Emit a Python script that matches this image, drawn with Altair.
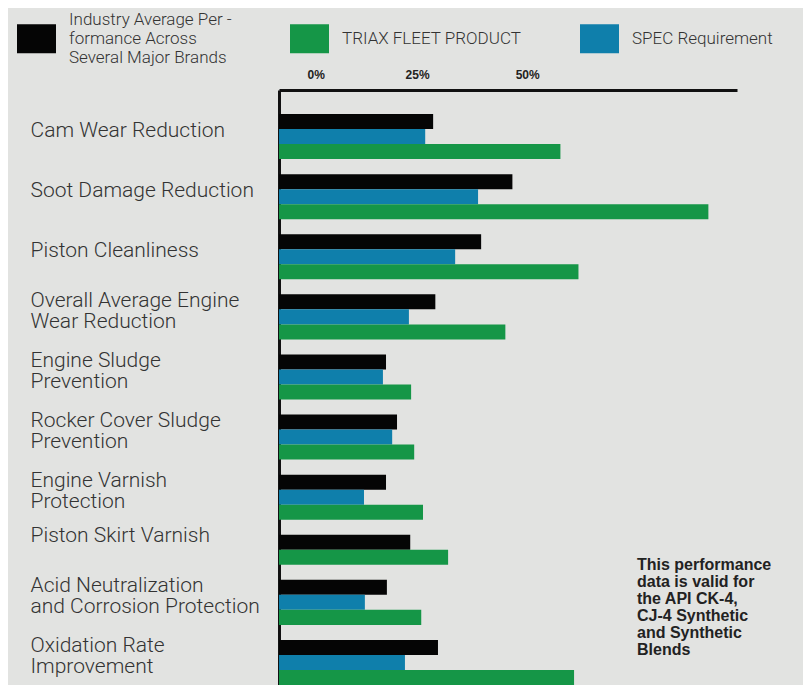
import altair as alt
import pandas as pd

categories = [
    "Cam Wear Reduction",
    "Soot Damage Reduction",
    "Piston Cleanliness",
    "Overall Average Engine|Wear Reduction",
    "Engine Sludge|Prevention",
    "Rocker Cover Sludge|Prevention",
    "Engine Varnish|Protection",
    "Piston Skirt Varnish",
    "Acid Neutralization|and Corrosion Protection",
    "Oxidation Rate|Improvement",
]
series = [
    "Industry Average Per -|formance Across|Several Major Brands",
    "TRIAX FLEET PRODUCT",
    "SPEC Requirement",
]
industry = [35.0, 53.0, 45.9, 35.5, 24.3, 26.8, 24.3, 29.8, 24.5, 36.1]
spec = [33.2, 45.2, 40.0, 29.5, 23.6, 25.7, 19.3, None, 19.5, 28.6]
triax = [63.9, 97.5, 68.0, 51.4, 30.0, 30.7, 32.7, 38.4, 32.3, 67.0]
tick_values = [0, 25, 50]
note_lines = [
    "This performance",
    "data is valid for",
    "the API CK-4,",
    "CJ-4 Synthetic",
    "and Synthetic",
    "Blends",
]
colors = ["#050505", "#159647", "#0f7fab"]

# one band row per bar, one empty row between category groups;
# the category label sits on the middle row of its group
rows = []
row_domain = []
for i, cat in enumerate(categories):
    present = [
        (name, vals[i])
        for name, vals in ((series[0], industry), (series[2], spec), (series[1], triax))
        if vals[i] is not None
    ]
    mid = (len(present) - 1) // 2
    for slot, (name, v) in enumerate(present):
        key = cat if slot == mid else f"{cat}@{slot}"
        row_domain.append(key)
        rows.append({"row": key, "series": name, "value": v})
    if i < len(categories) - 1:
        row_domain.append(f"~{i}")
df = pd.DataFrame(rows)

label_font = "Roboto"

bars = alt.Chart(df).mark_bar().encode(
    x=alt.X(
        "value:Q",
        scale=alt.Scale(domain=[0, 104], nice=False),
        axis=alt.Axis(
            orient="top",
            values=tick_values,
            labelExpr="datum.value + '%'",
            title=None,
            grid=False,
            ticks=False,
            tickSize=0,
            domainColor="#111111",
            domainWidth=3,
            labelFont="Liberation Sans",
            labelFontWeight="bold",
            labelFontSize=12,
            labelColor="#222222",
            labelOffset=28,
            labelPadding=9,
        ),
    ),
    y=alt.Y(
        "row:N",
        scale=alt.Scale(domain=row_domain, paddingInner=0, paddingOuter=1, align=0.8),
        axis=alt.Axis(
            title=None,
            ticks=False,
            tickSize=0,
            domainColor="#111111",
            domainWidth=3,
            labelExpr="(indexof(datum.label, '@') >= 0 || indexof(datum.label, '~') >= 0) ? '' : split(datum.label, '|')",
            labelAlign="left",
            labelPadding=249,
            labelOffset={"condition": {"test": "indexof(datum.value, '|') >= 0", "value": -16}, "value": -6},
            labelFont=label_font,
            labelFontWeight=300,
            labelFontSize=21,
            labelLineHeight=21,
            labelColor="#333333",
            labelLimit=400,
            labelOverlap=False,
        ),
    ),
    color=alt.Color(
        "series:N",
        scale=alt.Scale(domain=series, range=colors),
        legend=alt.Legend(
            title=None,
            orient="none",
            legendX=-262,
            legendY=-90,
            direction="horizontal",
            columns=3,
            symbolType="M-1,0.234H1V1.714H-1Z",
            symbolSize=1521,
            symbolStrokeWidth=0,
            symbolOpacity=1,
            labelExpr="indexof(datum.label, '|') >= 0 ? split(datum.label, '|') : [' ', datum.label, ' ']",
            labelFont=label_font,
            labelFontWeight=300,
            labelFontSize=17,
            labelColor="#333333",
            labelLimit=300,
            labelOffset=13,
            columnPadding=58,
            padding=0,
        ),
    ),
)

note_df = pd.DataFrame({"note": ["\n".join(note_lines)]})
note = alt.Chart(note_df).mark_text(
    align="left",
    baseline="top",
    lineBreak="\n",
    font="Liberation Sans",
    fontWeight="bold",
    fontSize=16,
    lineHeight=17,
    color="#222222",
).encode(text="note:N", x=alt.value(358), y=alt.value(467))

chart = (
    alt.layer(bars, note)
    .properties(
        width=458,
        height=601,
        autosize="none",
        padding={"left": 271, "top": 82, "right": 66, "bottom": 10},
        background="#e2e3e1",
    )
    .configure_view(stroke=None)
)

chart.save("out.html", embed_options={"renderer": "svg", "actions": False})
